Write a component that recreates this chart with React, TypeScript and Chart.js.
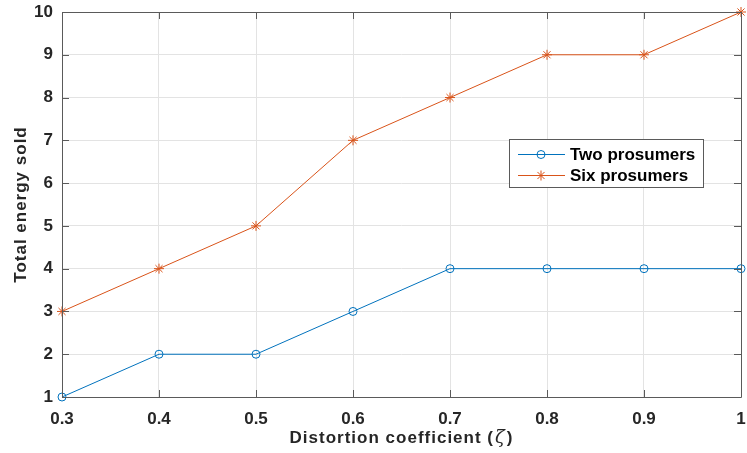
import React, { useEffect, useRef } from "react";
import { Chart, registerables } from "chart.js";

Chart.register(...registerables);

const xValues = [0.3, 0.4, 0.5, 0.6, 0.7, 0.8, 0.9, 1.0];
const twoProsumers = [1, 2, 2, 3, 4, 4, 4, 4];
const sixProsumers = [3, 4, 5, 7, 8, 9, 9, 10];
const seriesLabels = ["Two prosumers", "Six prosumers"];
const xTitleMain = "Distortion coefficient (";
const xTitleSymbol = "ζ";
const xTitleEnd = ")";
const yTitle = "Total energy sold";

const BLUE = "#0072BD";
const ORANGE = "#D95319";
const FONT = "'Liberation Sans', Arial, sans-serif";

function drawMarker(ctx: CanvasRenderingContext2D, style: string, x: number, y: number, r: number, color: string) {
  ctx.save();
  ctx.strokeStyle = color;
  ctx.lineWidth = 1;
  ctx.beginPath();
  if (style === "circle") {
    ctx.arc(x, y, r, 0, Math.PI * 2);
  } else {
    for (let i = 0; i < 4; i++) {
      const a = (i * Math.PI) / 4;
      ctx.moveTo(x - Math.cos(a) * r, y - Math.sin(a) * r);
      ctx.lineTo(x + Math.cos(a) * r, y + Math.sin(a) * r);
    }
  }
  ctx.stroke();
  ctx.restore();
}

const framePlugin = {
  id: "frame",
  afterDatasetsDraw(chart: any) {
    const { ctx, chartArea } = chart;
    const { left, right, top, bottom } = chartArea;
    const xs = chart.scales.x;
    const ys = chart.scales.y;
    ctx.save();
    ctx.strokeStyle = "#5a5a5a";
    ctx.lineWidth = 1;
    ctx.beginPath();
    ctx.rect(Math.round(left) + 0.5, Math.round(top) + 0.5, Math.round(right - left), Math.round(bottom - top));
    ctx.stroke();
    const tl = 7;
    ctx.beginPath();
    xs.ticks.forEach((t: any) => {
      const px = Math.round(xs.getPixelForValue(t.value)) + 0.5;
      ctx.moveTo(px, bottom);
      ctx.lineTo(px, bottom - tl);
      ctx.moveTo(px, top);
      ctx.lineTo(px, top + tl);
    });
    ys.ticks.forEach((t: any) => {
      const py = Math.round(ys.getPixelForValue(t.value)) + 0.5;
      ctx.moveTo(left, py);
      ctx.lineTo(left + tl, py);
      ctx.moveTo(right, py);
      ctx.lineTo(right - tl, py);
    });
    ctx.stroke();

    // x title
    const cx = (left + right) / 2;
    const ty = 438;
    ctx.fillStyle = "#262626";
    ctx.textBaseline = "middle";
    const f1 = `bold 17px ${FONT}`;
    const f2 = `italic 18px 'DejaVu Serif', 'Liberation Serif', serif`;
    (ctx as any).letterSpacing = "1px";
    ctx.font = f1;
    const w1 = ctx.measureText(xTitleMain).width;
    const w3 = ctx.measureText(xTitleEnd).width;
    ctx.font = f2;
    const w2 = ctx.measureText(xTitleSymbol).width + 2;
    const x0 = cx - (w1 + w2 + w3) / 2;
    ctx.textAlign = "left";
    ctx.font = f1;
    ctx.fillText(xTitleMain, x0, ty);
    ctx.font = f2;
    ctx.fillText(xTitleSymbol, x0 + w1 + 1, ty);
    ctx.font = f1;
    ctx.fillText(xTitleEnd, x0 + w1 + w2, ty);

    // y title
    ctx.save();
    ctx.translate(21, (top + bottom) / 2);
    ctx.rotate(-Math.PI / 2);
    ctx.textAlign = "center";
    ctx.font = f1;
    ctx.fillText(yTitle, 0, 0);
    ctx.restore();
    (ctx as any).letterSpacing = "0px";

    // legend
    const lx = 509, ly = 139, lw = 194, lh = 48;
    ctx.fillStyle = "#ffffff";
    ctx.fillRect(lx, ly, lw, lh);
    ctx.strokeStyle = "#5a5a5a";
    ctx.strokeRect(lx + 0.5, ly + 0.5, lw, lh);
    const rows = [
      { y: 154, color: BLUE, style: "circle", r: 4, label: chart.data.datasets[0].label },
      { y: 175, color: ORANGE, style: "star", r: 5, label: chart.data.datasets[1].label },
    ];
    rows.forEach((row) => {
      ctx.strokeStyle = row.color;
      ctx.lineWidth = 1;
      ctx.beginPath();
      ctx.moveTo(518, row.y + 0.5);
      ctx.lineTo(565, row.y + 0.5);
      ctx.stroke();
      drawMarker(ctx, row.style, 541, row.y + 0.5, row.r, row.color);
      ctx.fillStyle = "#000000";
      ctx.font = f1;
      ctx.textAlign = "left";
      ctx.textBaseline = "middle";
      ctx.fillText(row.label, 570, row.y + 1);
    });
    ctx.restore();
  },
};

export default function App() {
  const ref = useRef<HTMLCanvasElement | null>(null);
  useEffect(() => {
    if (!ref.current) return;
    const chart = new Chart(ref.current, {
      type: "line",
      data: {
        datasets: [
          {
            label: seriesLabels[0],
            data: xValues.map((x, i) => ({ x, y: twoProsumers[i] })),
            borderColor: BLUE,
            backgroundColor: "rgba(0,0,0,0)",
            borderWidth: 1,
            pointStyle: "circle",
            pointRadius: 4,
            pointBorderWidth: 1,
            pointBorderColor: BLUE,
            pointBackgroundColor: "rgba(0,0,0,0)",
            clip: false as any,
          },
          {
            label: seriesLabels[1],
            data: xValues.map((x, i) => ({ x, y: sixProsumers[i] })),
            borderColor: ORANGE,
            backgroundColor: "rgba(0,0,0,0)",
            borderWidth: 1,
            pointStyle: "star",
            pointRadius: 5,
            pointBorderWidth: 1,
            pointBorderColor: ORANGE,
            pointBackgroundColor: ORANGE,
            clip: false as any,
          },
        ],
      },
      options: {
        animation: false,
        responsive: false,
        devicePixelRatio: 1,
        layout: { padding: { left: 0, right: 3, top: 12, bottom: 0 } },
        plugins: { legend: { display: false }, tooltip: { enabled: false } },
        scales: {
          x: {
            type: "linear",
            min: 0.3,
            max: 1,
            border: { display: false },
            grid: { color: "#e3e3e3", drawTicks: false, lineWidth: 1 },
            ticks: {
              stepSize: 0.1,
              padding: 12,
              color: "#262626",
              font: { family: FONT, size: 17, weight: "bold" },
              maxRotation: 0,
              callback: (v: any) => String(Math.round(Number(v) * 10) / 10),
            },
            afterFit: (s: any) => {
              s.height = 56;
              s.paddingLeft = 0;
              s.paddingRight = 0;
            },
          },
          y: {
            min: 1,
            max: 10,
            border: { display: false },
            grid: { color: "#e3e3e3", drawTicks: false, lineWidth: 1 },
            ticks: {
              stepSize: 1,
              padding: 9,
              color: "#262626",
              font: { family: FONT, size: 17, weight: "bold" },
            },
            afterFit: (s: any) => {
              s.width = 62;
              s.paddingTop = 0;
              s.paddingBottom = 0;
            },
          },
        },
      },
      plugins: [framePlugin],
    });
    return () => chart.destroy();
  }, []);
  return (
    <div style={{ position: "fixed", left: 0, top: 0, width: 747, height: 453, background: "#fff" }}>
      <canvas ref={ref} width={747} height={453} style={{ width: 747, height: 453 }} />
    </div>
  );
}
